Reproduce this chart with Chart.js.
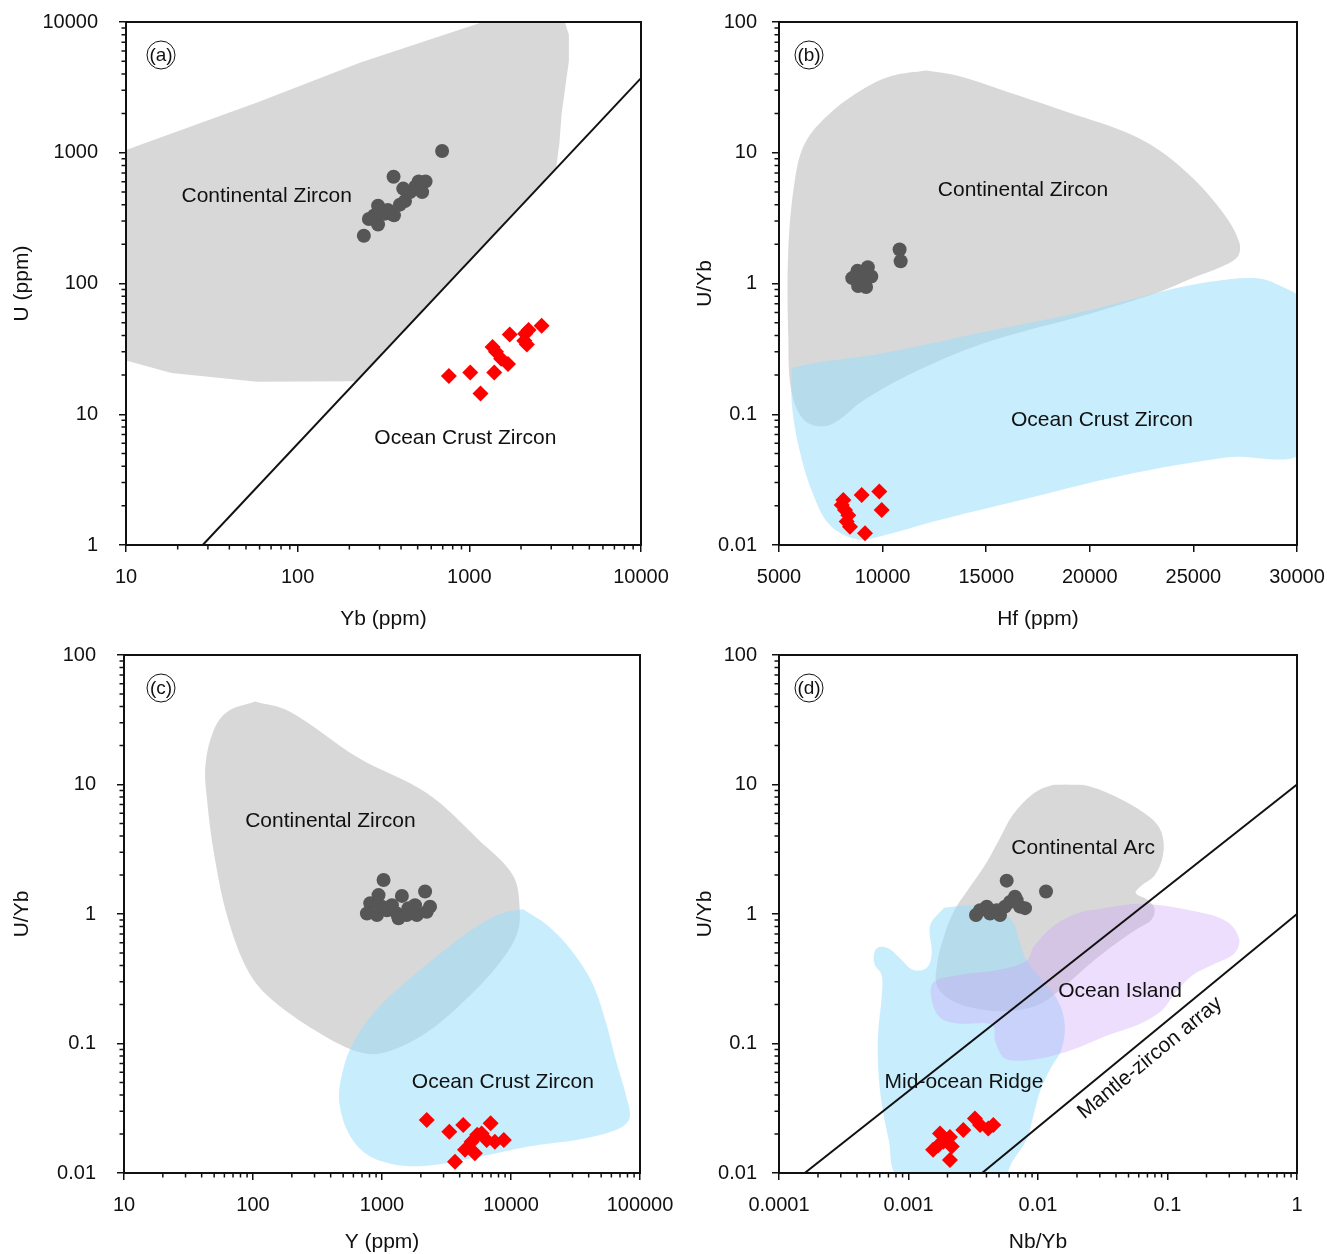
<!DOCTYPE html>
<html>
<head>
<meta charset="utf-8">
<script src="https://cdn.jsdelivr.net/npm/chart.js@4.4.1/dist/chart.umd.min.js"></script>
<style>
  html, body { margin: 0; padding: 0; background: #fff; }
  #wrap { position: relative; width: 1327px; height: 1254px; }
  #wrap canvas { position: absolute; left: 0; top: 0; }
</style>
</head>
<body>
<div id="wrap">
  <canvas id="chartA" width="1327" height="1254"></canvas>
  <canvas id="chartB" width="1327" height="1254"></canvas>
  <canvas id="chartC" width="1327" height="1254"></canvas>
  <canvas id="chartD" width="1327" height="1254"></canvas>
</div>
<script>
'use strict';

// ---- panel (a): U vs Yb ----
const aXTicks = [10, 100, 1000, 10000];
const aYTicks = [1, 10, 100, 1000, 10000];
const aContinental = [[694, 1032], [362, 655], [243, 232], [260, 311], [294, 283], [294, 394], [320, 342], [351, 342],
  [364, 332], [394, 401], [422, 427], [412, 532], [452, 500], [507, 604], [556, 604], [531, 500], [484, 550], [335, 365], [279, 331]];
const aOcean = [[760, 19.6], [1012, 20.9], [1162, 14.4], [1397, 20.9], [1366, 32.7], [1430, 30.1], [1720, 40.8], [1532, 26.6],
  [1680, 24.2], [2115, 41.3], [2164, 34.2], [2213, 44], [2638, 47.5], [2090, 36.5]];
const aContinentalField = [[10, 1050], [58, 2420], [232, 4900], [1200, 10000], [3600, 10000], [3800, 8000], [3800, 5000],
  [3600, 3000], [3450, 2000], [3350, 1200], [3200, 755], [220, 17.9], [58, 17.7], [18.4, 20.7], [10, 25.8]];
const aDivide = [[28, 1], [10000, 3720]];
const aLabels = [['Continental Zircon', 66, 467], ['Ocean Crust Zircon', 948, 6.58]];

// ---- panel (b): U/Yb vs Hf ----
const bXTicks = [5000, 10000, 15000, 20000, 25000, 30000];
const bYTicks = [0.01, 0.1, 1, 10, 100];
const bContinental = [[10820, 1.82], [10871, 1.48], [8786, 1.25], [9287, 1.33], [8536, 1.10], [9036, 1.03], [9453, 1.13],
  [8820, 0.957], [9203, 0.94], [8953, 1.17], [8703, 1.13]];
const bOcean = [[8103, 0.0221], [8185, 0.0185], [8267, 0.0151], [8427, 0.0138], [8991, 0.0241], [9841, 0.0256],
  [9957, 0.0185], [9151, 0.0123], [8026, 0.0202], [8345, 0.0169]];
const bContinentalField = [[12122, 42.6], [13622, 38.8], [15790, 30.1], [19125, 20.0], [21627, 14.6], [23295, 10.6],
  [24963, 6.42], [26465, 3.42], [27215, 2.07], [27130, 1.60], [26297, 1.33], [24963, 1.10], [23295, 0.855], [19960, 0.585],
  [14955, 0.353], [11620, 0.213], [9120, 0.129], [7452, 0.0828], [6284, 0.088], [5617, 0.146], [5450, 0.376], [5450, 1.82],
  [5784, 6.43], [6284, 12.1], [7452, 20.0], [9120, 31.1], [10453, 38.8]];
const bOceanField = [[5617, 0.227], [6951, 0.250], [9953, 0.292], [14955, 0.427], [19960, 0.624], [23295, 0.855],
  [25796, 1.03], [27965, 1.10], [29133, 0.968], [30300, 0.707], [30300, 0.0532], [26630, 0.0469], [21627, 0.0342],
  [16625, 0.0220], [12455, 0.0151], [9953, 0.0117], [8786, 0.0110], [7452, 0.0142], [6618, 0.0251], [5950, 0.0567], [5617, 0.121]];
const bLabels = [['Continental Zircon', 16776, 5.19], ['Ocean Crust Zircon', 20589, 0.0904]];

// ---- panel (c): U/Yb vs Y ----
const cXTicks = [10, 100, 1000, 10000, 100000];
const cYTicks = [0.01, 0.1, 1, 10, 100];
const cContinental = [[1028, 1.83], [2158, 1.49], [940, 1.40], [1426, 1.38], [811, 1.21], [764, 1.01], [914, 0.982],
  [1092, 1.07], [1303, 1.01], [1556, 0.982], [1862, 0.982], [2223, 1.04], [2357, 1.14], [1803, 1.17], [1194, 1.17],
  [1343, 0.927], [998, 1.14], [1603, 1.11]];
const cOcean = [[2223, 0.0257], [3324, 0.0208], [4266, 0.0235], [6950, 0.0242], [5470, 0.0197], [4950, 0.0174],
  [6470, 0.0180], [8800, 0.0180], [4400, 0.0151], [5250, 0.0142], [3680, 0.0122], [5920, 0.0202], [7500, 0.0174]];
const cContinentalField = [[104, 43.8], [192, 36.7], [655, 16.1], [2233, 8.55], [5600, 3.75], [10350, 1.99], [11700, 1.06],
  [11000, 0.678], [7600, 0.383], [4120, 0.203], [2233, 0.122], [1210, 0.0891], [741, 0.0836], [355, 0.115], [141, 0.217],
  [92, 0.360], [63.7, 0.93], [49.9, 2.91], [44.1, 7.53], [42.8, 14.2], [49.9, 26.7], [63.7, 36.7]];
const cOceanField = [[12430, 1.09], [19100, 0.819], [29300, 0.526], [42400, 0.297], [54200, 0.148], [65100, 0.0738],
  [78200, 0.0391], [83200, 0.0267], [69200, 0.0221], [35300, 0.0183], [14060, 0.0161], [5600, 0.0133], [2233, 0.0114],
  [1210, 0.0117], [741, 0.0142], [545, 0.0207], [468, 0.0344], [482, 0.0537], [579, 0.0949], [890, 0.179], [1644, 0.317],
  [3034, 0.526], [5600, 0.819], [8600, 1.02]];
const cLabels = [['Continental Zircon', 398, 5.23], ['Ocean Crust Zircon', 8650, 0.0505]];

// ---- panel (d): U/Yb vs Nb/Yb ----
const dXTicks = [0.0001, 0.001, 0.01, 0.1, 1];
const dYTicks = [0.01, 0.1, 1, 10, 100];
const dContinental = [[0.00573, 1.81], [0.01153, 1.49], [0.00664, 1.36], [0.00608, 1.24], [0.00726, 1.14], [0.00556, 1.14],
  [0.0048, 1.07], [0.00402, 1.14], [0.00357, 1.07], [0.00332, 0.982], [0.00426, 1.01], [0.00509, 0.982], [0.00794, 1.11], [0.00684, 1.28]];
const dOcean = [[0.00175, 0.0202], [0.00155, 0.0151], [0.00209, 0.0190], [0.00265, 0.0215], [0.00326, 0.0264],
  [0.00357, 0.0235], [0.00413, 0.0221], [0.00452, 0.0235], [0.00216, 0.0160], [0.00209, 0.0126], [0.0017, 0.0164], [0.00186, 0.0174]];
const dArcField = [[0.0161, 10.0], [0.0248, 9.70], [0.0457, 7.53], [0.0748, 5.48], [0.090, 4.26], [0.0927, 2.91],
  [0.0796, 1.99], [0.0622, 1.64], [0.0568, 1.45], [0.0703, 1.28], [0.0796, 1.09], [0.0748, 0.900], [0.0585, 0.769],
  [0.0405, 0.597], [0.0248, 0.408], [0.0161, 0.279], [0.0105, 0.203], [0.0064, 0.179], [0.00347, 0.185], [0.00212, 0.217],
  [0.00166, 0.279], [0.00166, 0.408], [0.00188, 0.677], [0.00225, 1.06], [0.00288, 1.54], [0.00392, 2.41], [0.00501, 3.75],
  [0.0064, 5.85], [0.00927, 8.55], [0.0126, 9.82]];
const dRidgeField = [[0.00188, 1.12], [0.00306, 1.16], [0.00501, 1.06], [0.0064, 0.873], [0.00724, 0.597], [0.00819, 0.435],
  [0.0105, 0.317], [0.0142, 0.216], [0.0161, 0.139], [0.0151, 0.0891], [0.0126, 0.0649], [0.0105, 0.0444], [0.00927, 0.0285],
  [0.00819, 0.0183], [0.0064, 0.0125], [0.00532, 0.0095], [0.000844, 0.0095], [0.000702, 0.0183], [0.000621, 0.0344],
  [0.000583, 0.0649], [0.000583, 0.122], [0.000621, 0.231], [0.000621, 0.337], [0.000548, 0.408], [0.000542, 0.493],
  [0.000583, 0.553], [0.000702, 0.542], [0.000844, 0.463], [0.00108, 0.371], [0.00138, 0.383], [0.00151, 0.493], [0.00147, 0.819]];
const dIslandField = [[0.0337, 1.12], [0.0622, 1.20], [0.156, 1.06], [0.289, 0.873], [0.358, 0.637], [0.327, 0.493],
  [0.226, 0.408], [0.156, 0.337], [0.115, 0.246], [0.090, 0.179], [0.0585, 0.139], [0.0337, 0.115], [0.0182, 0.0891],
  [0.00984, 0.076], [0.00566, 0.076], [0.00471, 0.101], [0.00443, 0.139], [0.0024, 0.143], [0.00176, 0.158], [0.00151, 0.217],
  [0.00156, 0.297], [0.0024, 0.337], [0.00501, 0.371], [0.00819, 0.435], [0.00927, 0.560], [0.0134, 0.819], [0.0205, 1.02]];
const dUpperLine = [[0.000158, 0.01], [1, 10]];
const dMantleArray = [[0.0037, 0.01], [1, 1]];
const dLabels = [['Continental Arc', 0.0223, 3.24], ['Ocean Island', 0.043, 0.254], ['Mid-ocean Ridge', 0.00268, 0.0505],
  ['Mantle-zircon array', 0.0733, 0.0773, dMantleArray]];

// colours
const DARK = '#565656';
const RED = '#ff0000';
const GREY_FIELD = 'rgba(190, 190, 190, 0.6)';
const BLUE_FIELD = 'rgba(155, 222, 250, 0.55)';
const PURPLE_FIELD = 'rgba(200, 160, 245, 0.35)';
const INK = '#111';
const FONT = "'Liberation Sans', Arial, Helvetica, sans-serif";

Chart.defaults.font.family = FONT;
Chart.defaults.color = INK;

function pts(list) {
  return list.map(p => ({ x: p[0], y: p[1] }));
}

function circles(list) {
  return { data: pts(list), pointStyle: 'circle', pointRadius: 7, pointBackgroundColor: DARK, pointBorderWidth: 0, order: 0 };
}

function diamonds(list) {
  return { data: pts(list), pointStyle: 'rectRot', pointRadius: 8, pointBackgroundColor: RED, pointBorderWidth: 0, order: 0 };
}

function line(list) {
  return { data: pts(list), showLine: true, borderColor: INK, borderWidth: 2, pointRadius: 0, order: 1 };
}

function field(list, color, order, tension) {
  return {
    data: pts(list.concat([list[0]])),
    showLine: true,
    fill: 'shape',
    backgroundColor: color,
    borderColor: 'rgba(0,0,0,0)',
    borderWidth: 0,
    pointRadius: 0,
    tension: tension,
    order: order
  };
}

function minorValues(scale) {
  let out = [];
  if (scale.type !== 'logarithmic') return out;
  let lo = Math.round(Math.log10(scale.min));
  let hi = Math.round(Math.log10(scale.max));
  for (let k = lo; k < hi; k++) {
    for (let m = 2; m <= 9; m++) out.push(m * Math.pow(10, k));
  }
  return out;
}

// frame, minor ticks, panel letter and field names
function decor(p) {
  return {
    id: 'decor' + p.letter,
    afterDatasetsDraw(chart) {
      const ctx = chart.ctx;
      const area = chart.chartArea;
      const x = chart.scales.x;
      const y = chart.scales.y;
      ctx.save();
      ctx.strokeStyle = INK;
      ctx.lineWidth = 1.5;
      ctx.beginPath();
      minorValues(x).forEach(v => {
        let px = x.getPixelForValue(v);
        ctx.moveTo(px, area.bottom);
        ctx.lineTo(px, area.bottom + 4.5);
      });
      minorValues(y).forEach(v => {
        let py = y.getPixelForValue(v);
        ctx.moveTo(area.left, py);
        ctx.lineTo(area.left - 4.5, py);
      });
      ctx.stroke();

      ctx.lineWidth = 2;
      ctx.strokeRect(area.left, area.top, area.right - area.left, area.bottom - area.top);

      // circled panel letter
      let cx = area.left + p.letterOffset;
      let cy = area.top + 33;
      ctx.lineWidth = 1;
      ctx.beginPath();
      ctx.arc(cx, cy, 14, 0, Math.PI * 2);
      ctx.stroke();
      ctx.fillStyle = INK;
      ctx.font = '19px ' + FONT;
      ctx.textAlign = 'center';
      ctx.textBaseline = 'middle';
      ctx.fillText('(' + p.letter + ')', cx, cy + 1);

      ctx.font = '21px ' + FONT;
      p.labels.forEach(lab => {
        let lx = x.getPixelForValue(lab[1]);
        let ly = y.getPixelForValue(lab[2]);
        ctx.save();
        ctx.translate(lx, ly);
        if (lab[3]) {
          let a = lab[3];
          let x1 = x.getPixelForValue(a[0][0]);
          let y1 = y.getPixelForValue(a[0][1]);
          let x2 = x.getPixelForValue(a[1][0]);
          let y2 = y.getPixelForValue(a[1][1]);
          ctx.rotate(Math.atan2(y2 - y1, x2 - x1));
        }
        ctx.fillText(lab[0], 0, 0);
        ctx.restore();
      });
      ctx.restore();
    }
  };
}

function axis(type, min, max, ticks, title, isX, size, pad) {
  return {
    type: type,
    min: min,
    max: max,
    afterBuildTicks: s => { s.ticks = ticks.map(v => ({ value: v })); },
    afterFit: s => {
      if (isX) s.height = size;
      else s.width = size;
      // the layout padding already leaves room for the edge labels
      s.paddingLeft = 0;
      s.paddingRight = 0;
      s.paddingTop = 0;
      s.paddingBottom = 0;
    },
    ticks: {
      autoSkip: false,
      maxRotation: 0,
      padding: pad,
      color: INK,
      font: { size: 20 },
      callback: v => String(v)
    },
    grid: { drawOnChartArea: false, drawTicks: true, tickLength: 7, color: INK, lineWidth: 1.5 },
    border: { display: false },
    title: { display: true, text: title, color: INK, font: { size: 21, lineHeight: 1 }, padding: 0 }
  };
}

function buildPanel(p) {
  new Chart(document.getElementById(p.id), {
    type: 'scatter',
    data: { datasets: p.datasets },
    options: {
      responsive: false,
      animation: false,
      events: [],
      layout: { padding: p.padding },
      plugins: { legend: { display: false }, tooltip: { enabled: false } },
      scales: {
        x: axis(p.xType, p.xRange[0], p.xRange[1], p.xTicks, p.xTitle, true, p.xSize, 13),
        y: axis('logarithmic', p.yRange[0], p.yRange[1], p.yTicks, p.yTitle, false, p.ySize, p.yPad)
      }
    },
    plugins: [decor(p)]
  });
}

buildPanel({
  id: 'chartA', letter: 'a', letterOffset: 35,
  xType: 'logarithmic', xRange: [10, 10000], xTicks: aXTicks, xTitle: 'Yb (ppm)',
  yRange: [1, 10000], yTicks: aYTicks, yTitle: 'U (ppm)',
  padding: { left: 12, top: 22, right: 686, bottom: 624 }, xSize: 85, ySize: 114, yPad: 21,
  labels: aLabels,
  datasets: [
    circles(aContinental),
    diamonds(aOcean),
    line(aDivide),
    field(aContinentalField, GREY_FIELD, 4, 0)
  ]
});

buildPanel({
  id: 'chartB', letter: 'b', letterOffset: 30,
  xType: 'linear', xRange: [5000, 30000], xTicks: bXTicks, xTitle: 'Hf (ppm)',
  yRange: [0.01, 100], yTicks: bYTicks, yTitle: 'U/Yb',
  padding: { left: 695, top: 22, right: 30, bottom: 624 }, xSize: 85, ySize: 84, yPad: 15,
  labels: bLabels,
  datasets: [
    circles(bContinental),
    diamonds(bOcean),
    field(bOceanField, BLUE_FIELD, 3, 0.35),
    field(bContinentalField, GREY_FIELD, 4, 0.35)
  ]
});

buildPanel({
  id: 'chartC', letter: 'c', letterOffset: 37,
  xType: 'logarithmic', xRange: [10, 100000], xTicks: cXTicks, xTitle: 'Y (ppm)',
  yRange: [0.01, 100], yTicks: cYTicks, yTitle: 'U/Yb',
  padding: { left: 12, top: 655, right: 687, bottom: 1 }, xSize: 80, ySize: 112, yPad: 21,
  labels: cLabels,
  datasets: [
    circles(cContinental),
    diamonds(cOcean),
    field(cOceanField, BLUE_FIELD, 3, 0.35),
    field(cContinentalField, GREY_FIELD, 4, 0.35)
  ]
});

buildPanel({
  id: 'chartD', letter: 'd', letterOffset: 30,
  xType: 'logarithmic', xRange: [0.0001, 1], xTicks: dXTicks, xTitle: 'Nb/Yb',
  yRange: [0.01, 100], yTicks: dYTicks, yTitle: 'U/Yb',
  padding: { left: 695, top: 655, right: 30, bottom: 1 }, xSize: 80, ySize: 84, yPad: 15,
  labels: dLabels,
  datasets: [
    circles(dContinental),
    diamonds(dOcean),
    line(dUpperLine),
    line(dMantleArray),
    field(dIslandField, PURPLE_FIELD, 2, 0.35),
    field(dRidgeField, BLUE_FIELD, 3, 0.35),
    field(dArcField, GREY_FIELD, 4, 0.35)
  ]
});
</script>
</body>
</html>
